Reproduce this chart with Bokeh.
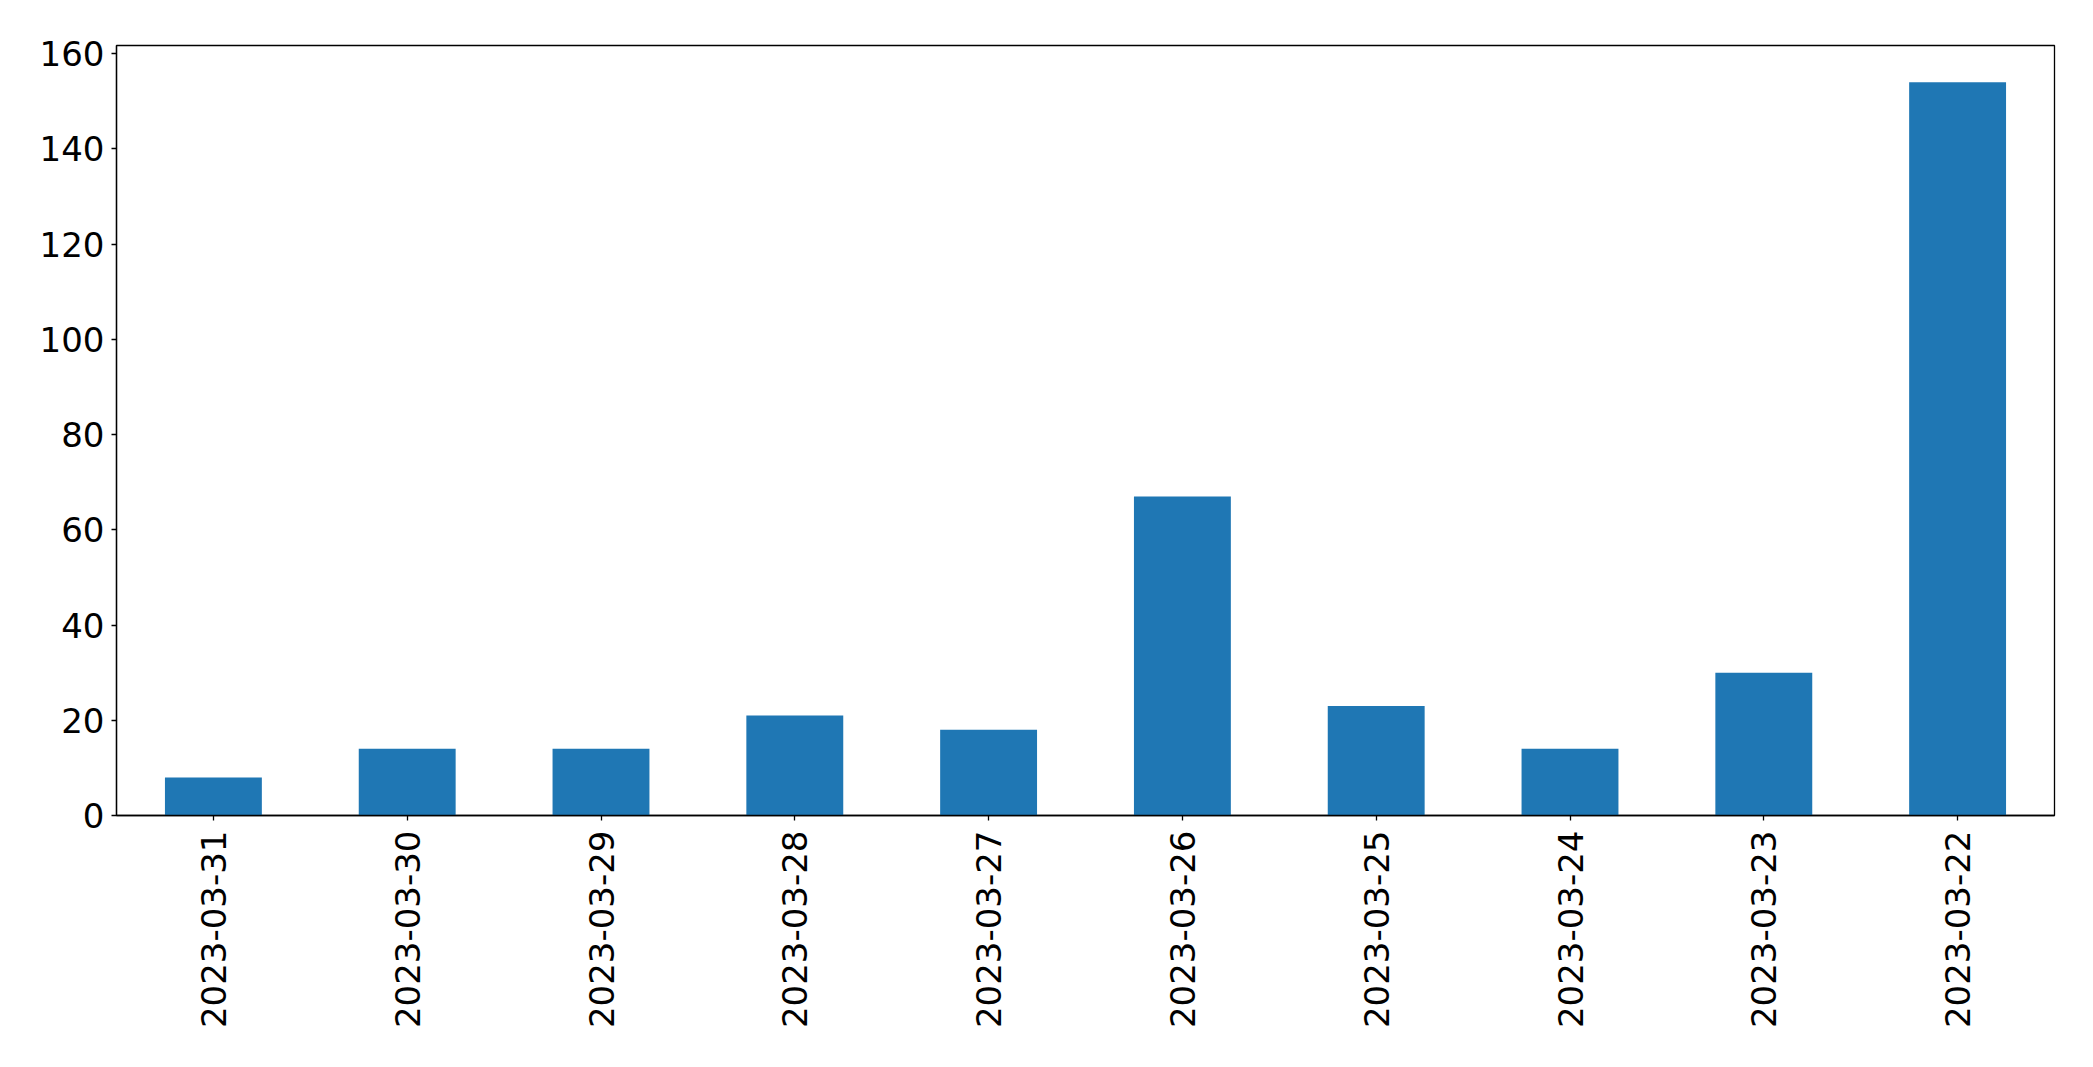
import math
from bokeh.plotting import figure
from bokeh.models import FactorRange, Range1d, FixedTicker
from bokeh.embed import file_html
from bokeh.resources import INLINE

dates = ["2023-03-31", "2023-03-30", "2023-03-29", "2023-03-28", "2023-03-27",
         "2023-03-26", "2023-03-25", "2023-03-24", "2023-03-23", "2023-03-22"]
counts = [8, 14, 14, 21, 18, 67, 23, 14, 30, 154]
y_ticks = [0, 20, 40, 60, 80, 100, 120, 140, 160]

p = figure(x_range=FactorRange(factors=dates, range_padding=0),
           y_range=Range1d(0, max(counts) * 1.05),
           frame_width=1938, frame_height=770,
           min_border_left=116, min_border_top=45, min_border_right=20, min_border_bottom=230,
           output_backend="svg", toolbar_location=None)

p.vbar(x=dates, top=counts, width=0.5, color="#1f77b4", line_color=None)

p.xgrid.visible = False
p.ygrid.visible = False
p.outline_line_color = "black"
p.outline_line_width = 1.3
p.outline_line_alpha = 1

for ax in (p.xaxis, p.yaxis):
    ax.axis_line_color = "black"
    ax.axis_line_width = 1.3
    ax.major_tick_line_color = "black"
    ax.major_tick_line_width = 1.3
    ax.major_tick_out = 5
    ax.major_tick_in = 0
    ax.minor_tick_line_color = None
    ax.major_label_text_font = "DejaVu Sans"
    ax.major_label_text_font_size = "34px"
    ax.major_label_text_color = "black"

p.yaxis.ticker = FixedTicker(ticks=y_ticks)
p.yaxis.major_label_standoff = 7
p.xaxis.major_label_orientation = math.pi / 2
p.xaxis.major_label_standoff = 10

open("out.html", "w").write(file_html(p, INLINE))
